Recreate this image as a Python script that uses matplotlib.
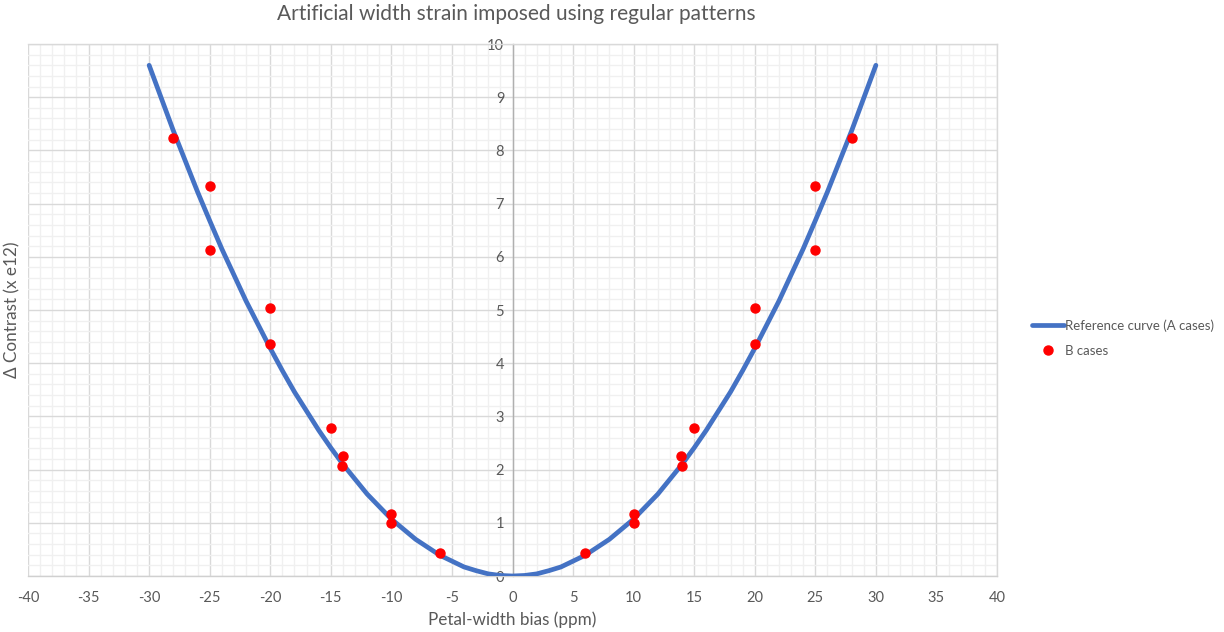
import matplotlib
matplotlib.use("Agg")
import matplotlib.pyplot as plt
from matplotlib.ticker import MultipleLocator

plt.rcParams['font.family'] = ['Lato', 'DejaVu Sans']
plt.rcParams['axes.unicode_minus'] = False

# Reference curve (A cases)
curve_x = [-30, -28, -26, -25, -24, -22, -20, -19, -18, -16, -15, -14, -12, -10,
           -8, -6, -4, -3, -2, -1, 0, 1, 2, 3, 4, 6, 8, 10, 12, 14, 15, 16, 18,
           19, 20, 22, 24, 25, 26, 28, 30]
curve_y = [9.60, 8.37, 7.22, 6.68, 6.15, 5.17, 4.28, 3.86, 3.46, 2.74, 2.41, 2.10,
           1.54, 1.07, 0.69, 0.39, 0.17, 0.10, 0.04, 0.01, 0.00, 0.01, 0.04, 0.10,
           0.17, 0.39, 0.69, 1.07, 1.54, 2.10, 2.41, 2.74, 3.46, 3.86, 4.28, 5.17,
           6.15, 6.68, 7.22, 8.37, 9.60]

# B cases
b_x = [-28, -25, -25, -20, -20, -15, -14, -14.1, -10, -10, -6,
       6, 10, 10, 13.9, 14, 15, 20, 20, 25, 25, 28]
b_y = [8.23, 7.33, 6.13, 5.04, 4.36, 2.78, 2.26, 2.07, 1.17, 1.00, 0.43,
       0.43, 1.17, 1.00, 2.26, 2.07, 2.78, 5.04, 4.36, 7.33, 6.13, 8.23]

x_ticks = list(range(-40, 41, 5))
y_ticks = list(range(0, 11))

W, H = 1224, 632
fig = plt.figure(figsize=(W / 100, H / 100), dpi=100)
ax = fig.add_axes([28 / W, (H - 576) / H, (997 - 28) / W, (576 - 44) / H])

text_color = '#595959'

ax.set_xlim(-40, 40)
ax.set_ylim(0, 10)
ax.set_xticks(x_ticks)
ax.set_yticks(y_ticks)
ax.xaxis.set_minor_locator(MultipleLocator(1))
ax.yaxis.set_minor_locator(MultipleLocator(0.2))

ax.grid(which='minor', color='#f0f0f0', linewidth=1.0, zorder=0)
ax.grid(which='major', color='#d9d9d9', linewidth=1.0, zorder=0)
ax.set_axisbelow(True)

ax.spines['left'].set_position(('data', 0))
ax.spines['left'].set_color('#b0b0b0')
ax.spines['bottom'].set_color('#d0d0d0')
ax.spines['top'].set_color('#d9d9d9')
ax.spines['right'].set_color('#d9d9d9')
for s in ax.spines.values():
    s.set_linewidth(1.0)

ax.tick_params(which='both', length=0)
ax.tick_params(axis='x', pad=11, labelsize=10.5, labelcolor=text_color)
ax.tick_params(axis='y', pad=6, labelsize=10.5, labelcolor=text_color)

ax.plot(curve_x, curve_y, color='#4472C4', linewidth=3.4,
        solid_capstyle='round', label='Reference curve (A cases)', zorder=3)
ax.plot(b_x, b_y, linestyle='none', marker='o', markersize=6.5,
        color='#FF0000', label='B cases', zorder=4)

fig.text(516 / W, 1 - 14 / H, 'Artificial width strain imposed using regular patterns',
         ha='center', va='center', fontsize=15, color=text_color)
fig.text(512 / W, 1 - 620 / H, 'Petal-width bias (ppm)',
         ha='center', va='center', fontsize=12.3, color=text_color)
fig.text(12 / W, 1 - 310 / H, 'Δ Contrast (x e12)', rotation=90,
         ha='center', va='center', fontsize=12.3, color=text_color)

leg = fig.legend(loc='center left', bbox_to_anchor=(1020 / W, 1 - 338 / H),
                 frameon=False, fontsize=9.5, labelcolor=text_color,
                 handlelength=2.4, handletextpad=0.1, labelspacing=1.0)

fig.savefig('out.png', dpi=100)
